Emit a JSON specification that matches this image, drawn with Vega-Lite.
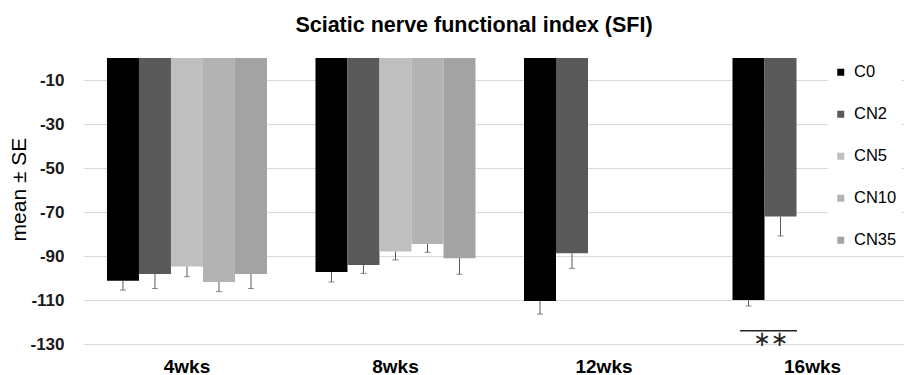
{
  "$schema": "https://vega.github.io/schema/vega-lite/v6.json",
  "width": 821,
  "height": 286,
  "autosize": {"type": "none"},
  "padding": {"left": 83, "top": 58, "right": 0, "bottom": 31},
  "background": "white",
  "config": {"font": "Liberation Sans", "view": {"stroke": null}},
  "title": {"text": "Sciatic nerve functional index (SFI)", "fontSize": 21.5, "fontWeight": "bold", "color": "#000000", "anchor": "middle", "dx": -19.5, "offset": 22},
  "datasets": {
    "sfi": [
      {"time": "4wks", "group": "C0", "mean": -101.2, "lo": -105.5},
      {"time": "4wks", "group": "CN2", "mean": -98.2, "lo": -104.8},
      {"time": "4wks", "group": "CN5", "mean": -94.8, "lo": -99.4},
      {"time": "4wks", "group": "CN10", "mean": -101.8, "lo": -106.2},
      {"time": "4wks", "group": "CN35", "mean": -98.2, "lo": -104.8},
      {"time": "8wks", "group": "C0", "mean": -97.3, "lo": -101.8},
      {"time": "8wks", "group": "CN2", "mean": -94.1, "lo": -97.9},
      {"time": "8wks", "group": "CN5", "mean": -88.0, "lo": -91.8},
      {"time": "8wks", "group": "CN10", "mean": -84.5, "lo": -88.3},
      {"time": "8wks", "group": "CN35", "mean": -91.0, "lo": -98.3},
      {"time": "12wks", "group": "C0", "mean": -110.5, "lo": -116.4},
      {"time": "12wks", "group": "CN2", "mean": -88.8, "lo": -95.6},
      {"time": "16wks", "group": "C0", "mean": -110.0, "lo": -112.7},
      {"time": "16wks", "group": "CN2", "mean": -72.1, "lo": -80.9}
    ],
    "sig": [
      {"time": "16wks", "y": -124.0, "ty": -128.0, "label": "∗∗"}
    ]
  },
  "layer": [
    {
      "data": {"name": "sfi"},
      "mark": {"type": "bar", "strokeWidth": 0},
      "encoding": {
        "x": {
          "field": "time", "type": "nominal", "sort": ["4wks", "8wks", "12wks", "16wks"],
          "scale": {"domain": ["4wks", "8wks", "12wks", "16wks"], "paddingInner": 0.2326, "paddingOuter": 0.085, "align": 0.676},
          "axis": {"title": null, "labelAngle": 0, "labelFontSize": 19, "labelFontWeight": "bold", "labelColor": "#000000", "ticks": false, "domain": false, "grid": false, "labelPadding": 28, "labelBaseline": "alphabetic"}
        },
        "xOffset": {"field": "group", "type": "nominal", "sort": ["C0", "CN2", "CN5", "CN10", "CN35"], "scale": {"domain": ["C0", "CN2", "CN5", "CN10", "CN35"], "paddingInner": 0, "paddingOuter": 0}},
        "y": {
          "field": "mean", "type": "quantitative",
          "scale": {"domain": [-130, 0], "nice": false, "zero": false},
          "axis": {"values": [-130, -110, -90, -70, -50, -30, -10], "labelExpr": "'' + datum.value", "title": "mean ± SE", "grid": true, "gridColor": "#d9d9d9", "gridWidth": 1, "domain": false, "ticks": false, "labelPadding": 19, "labelFontSize": 17, "labelFontWeight": "bold", "labelColor": "#1a1a1a", "titleFontSize": 21, "titleFontWeight": "normal", "titleColor": "#000000", "titleX": -64, "titleY": 131, "titleAngle": -90, "titleAlign": "center", "titleBaseline": "middle"}
        },
        "color": {
          "field": "group", "type": "nominal", "sort": ["C0", "CN2", "CN5", "CN10", "CN35"],
          "scale": {"domain": ["C0", "CN2", "CN5", "CN10", "CN35"], "range": ["#000000", "#595959", "#bfbfbf", "#b3b3b3", "#a3a3a3"]},
          "legend": {"orient": "none", "legendX": 744.5, "legendY": 1, "title": null, "fillColor": "white", "padding": 5, "symbolType": "square", "symbolSize": 49, "symbolStrokeWidth": 0, "labelFontSize": 16.5, "labelColor": "#000000", "labelOffset": 5, "rowPadding": 25, "direction": "vertical"}
        }
      }
    },
    {
      "data": {"name": "sfi"},
      "mark": {"type": "rule", "color": "#595959", "strokeWidth": 1},
      "encoding": {
        "x": {"field": "time", "type": "nominal", "sort": ["4wks", "8wks", "12wks", "16wks"]},
        "xOffset": {"field": "group", "type": "nominal", "sort": ["C0", "CN2", "CN5", "CN10", "CN35"]},
        "y": {"field": "mean", "type": "quantitative"},
        "y2": {"field": "lo"}
      }
    },
    {
      "data": {"name": "sfi"},
      "mark": {"type": "tick", "color": "#595959", "thickness": 1, "size": 6, "orient": "horizontal"},
      "encoding": {
        "x": {"field": "time", "type": "nominal", "sort": ["4wks", "8wks", "12wks", "16wks"]},
        "xOffset": {"field": "group", "type": "nominal", "sort": ["C0", "CN2", "CN5", "CN10", "CN35"]},
        "y": {"field": "lo", "type": "quantitative"}
      }
    },
    {
      "data": {"name": "sig"},
      "mark": {"type": "rule", "color": "#222222", "strokeWidth": 1.5},
      "encoding": {
        "x": {"field": "time", "type": "nominal", "sort": ["4wks", "8wks", "12wks", "16wks"], "bandPosition": 0.047},
        "x2": {"field": "time", "bandPosition": 0.403},
        "y": {"field": "y", "type": "quantitative"}
      }
    },
    {
      "data": {"name": "sig"},
      "mark": {"type": "text", "color": "#222222", "font": "DejaVu Sans", "fontSize": 21, "baseline": "middle", "align": "center"},
      "encoding": {
        "x": {"field": "time", "type": "nominal", "sort": ["4wks", "8wks", "12wks", "16wks"], "bandPosition": 0.239},
        "y": {"field": "ty", "type": "quantitative"},
        "text": {"field": "label"}
      }
    }
  ]
}
